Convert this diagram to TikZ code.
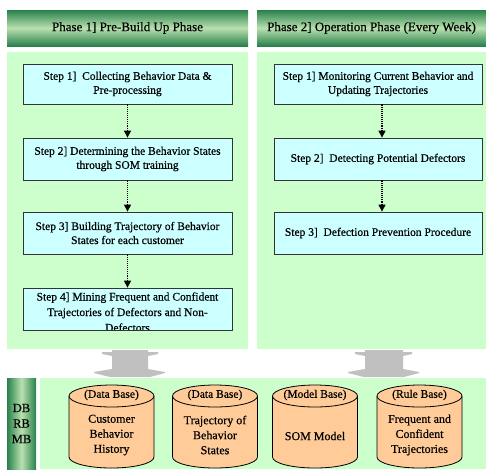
\documentclass[tikz,border=0pt]{standalone}
\usepackage{fontspec}
\setmainfont[FakeBold=0.4,AutoFakeBold=0.4]{Liberation Serif}
\newfontfamily\heavyfont[FakeBold=0.5]{Liberation Serif}
\usetikzlibrary{arrows.meta}
\definecolor{panelgreen}{RGB}{204,255,204}
\definecolor{boxcyan}{RGB}{204,255,255}
\definecolor{cylpeach}{RGB}{255,204,153}
\definecolor{hdark}{RGB}{40,128,76}
\definecolor{hlight}{RGB}{185,225,175}
\definecolor{arrowgray}{RGB}{192,192,192}
\newcommand\drawcyl[5]{%
  \coordinate (#1) at (#2,426);
  \fill[cylpeach] (#2-42.5,396) -- (#2-42.5,457) arc[start angle=180,end angle=360,x radius=42.5pt,y radius=11pt] -- (#2+42.5,396) -- cycle;
  \draw[cylline] (#2-42.5,396) -- (#2-42.5,457) arc[start angle=180,end angle=360,x radius=42.5pt,y radius=11pt] -- (#2+42.5,396);
  \filldraw[cylline,fill=cylpeach] (#2,396) ellipse [x radius=42.5pt,y radius=11pt];
  \node[cyltop] (#1-t) at (#2,395) {#3};
  \node[cylbody] (#1-b) at (#2,#5) {#4};
}
\begin{document}
\begin{tikzpicture}[x=1pt,y=-1pt,
  header/.style={shading=axis,top color=hdark,bottom color=hdark,middle color=hlight,
    inner sep=0pt,font=\heavyfont\fontsize{13}{14}\selectfont},
  vheader/.style={shading=axis,left color=hdark,right color=hdark,middle color=hlight,
    inner sep=0pt,align=center,font=\heavyfont\fontsize{12.5}{15.5}\selectfont},
  panel/.style={fill=panelgreen,inner sep=0pt},
  stepbox/.style={draw=black!80,line width=0.8pt,fill=boxcyan,inner sep=0pt,align=center,
    font=\heavyfont\fontsize{11.5}{14}\selectfont},
  flow/.style={densely dotted,line width=1.1pt,-{Triangle[length=7pt,width=7pt]}},
  cylline/.style={draw=black,line width=0.8pt},
  cyltop/.style={inner sep=0pt,font=\heavyfont\fontsize{11.5}{13}\selectfont},
  cylbody/.style={inner sep=0pt,align=center,font=\heavyfont\fontsize{12}{15}\selectfont}]
\useasboundingbox (0,0) rectangle (486,469);
\fill[white] (0,0) rectangle (486,469);
% headers
\node[header,minimum width=241pt,minimum height=36pt] (h1) at (127.5,28) {Phase 1] Pre-Build Up Phase};
\node[header,minimum width=229pt,minimum height=36pt] (h2) at (371.5,28) {Phase 2] Operation Phase (Every Week)};
% panels
\node[panel,minimum width=241pt,minimum height=297pt] (p1) at (127.5,200.5) {};
\node[panel,minimum width=229pt,minimum height=297pt] (p2) at (371.5,200.5) {};
\node[panel,minimum width=446pt,minimum height=91pt] (p3) at (263,423.5) {};
\node[vheader,minimum width=29pt,minimum height=91pt] (db) at (21.5,423.5) {DB\\RB\\MB};
% left steps
\node[stepbox,minimum width=209pt,minimum height=40pt] (l1) at (127.5,84) {Step 1]\ \ Collecting Behavior Data \&\\Pre-processing};
\node[stepbox,minimum width=209pt,minimum height=42pt] (l2) at (127.5,159) {Step 2]\ Determining the Behavior States\\through SOM training};
\node[stepbox,minimum width=209pt,minimum height=42pt] (l3) at (127.5,233) {Step 3]\ Building Trajectory of Behavior\\States for each customer};
\node[stepbox,minimum width=209pt,minimum height=42pt] (l4) at (127.5,309) {};
\begin{scope}
\clip (23,288) rectangle (232,330);
\node[inner sep=0pt,align=center,font=\heavyfont\fontsize{11.5}{15.5}\selectfont] (l4-txt) at (127.5,312) {Step 4]\ Mining Frequent and Confident\\Trajectories of Defectors and Non-\\Defectors};
\end{scope}
\draw[draw=black!80,line width=0.8pt] (l4.south west) -- (l4.south east);
% right steps
\node[stepbox,minimum width=208pt,minimum height=40pt] (r1) at (378,84) {Step 1]\ Monitoring Current Behavior and\\Updating Trajectories};
\node[stepbox,minimum width=208pt,minimum height=42pt] (r2) at (378,159) {Step 2]\ \ Detecting Potential Defectors};
\node[stepbox,minimum width=208pt,minimum height=42pt] (r3) at (378,233) {Step 3]\ \ Defection Prevention Procedure};
% flows
\draw[flow] (l1) -- (l2);
\draw[flow] (l2) -- (l3);
\draw[flow] (l3) -- (l4);
\draw[flow] ([xshift=4pt]r1.south) -- ([xshift=4pt]r2.north);
\draw[flow] ([xshift=4pt]r2.south) -- ([xshift=4pt]r3.north);
% gray double arrows
\fill[arrowgray] (112,350) -- (148,350) -- (148,352) -- (158,352) -- (158,354) -- (148,356) -- (148,369) -- (165,372) -- (165,373) -- (150,377) -- (110,377) -- (94,373) -- (94,372) -- (112,369) -- (112,356) -- (102,354) -- (102,352) -- (112,352) -- cycle;
\fill[arrowgray] (365,350) -- (403,350) -- (403,352) -- (412,352) -- (412,354) -- (403,356) -- (403,369) -- (419,372) -- (419,373) -- (404,377) -- (364,377) -- (348,373) -- (348,372) -- (365,369) -- (365,356) -- (355,354) -- (355,352) -- (365,352) -- cycle;
% cylinders
\drawcyl{c1}{111.5}{(Data Base)}{Customer\\Behavior\\History}{435}
\drawcyl{c2}{215}{(Data Base)}{Trajectory of\\Behavior\\States}{435}
\drawcyl{c3}{315}{(Model Base)}{SOM Model}{436}
\drawcyl{c4}{419.5}{(Rule Base)}{Frequent and\\Confident\\Trajectories}{435}
\end{tikzpicture}
\end{document}
